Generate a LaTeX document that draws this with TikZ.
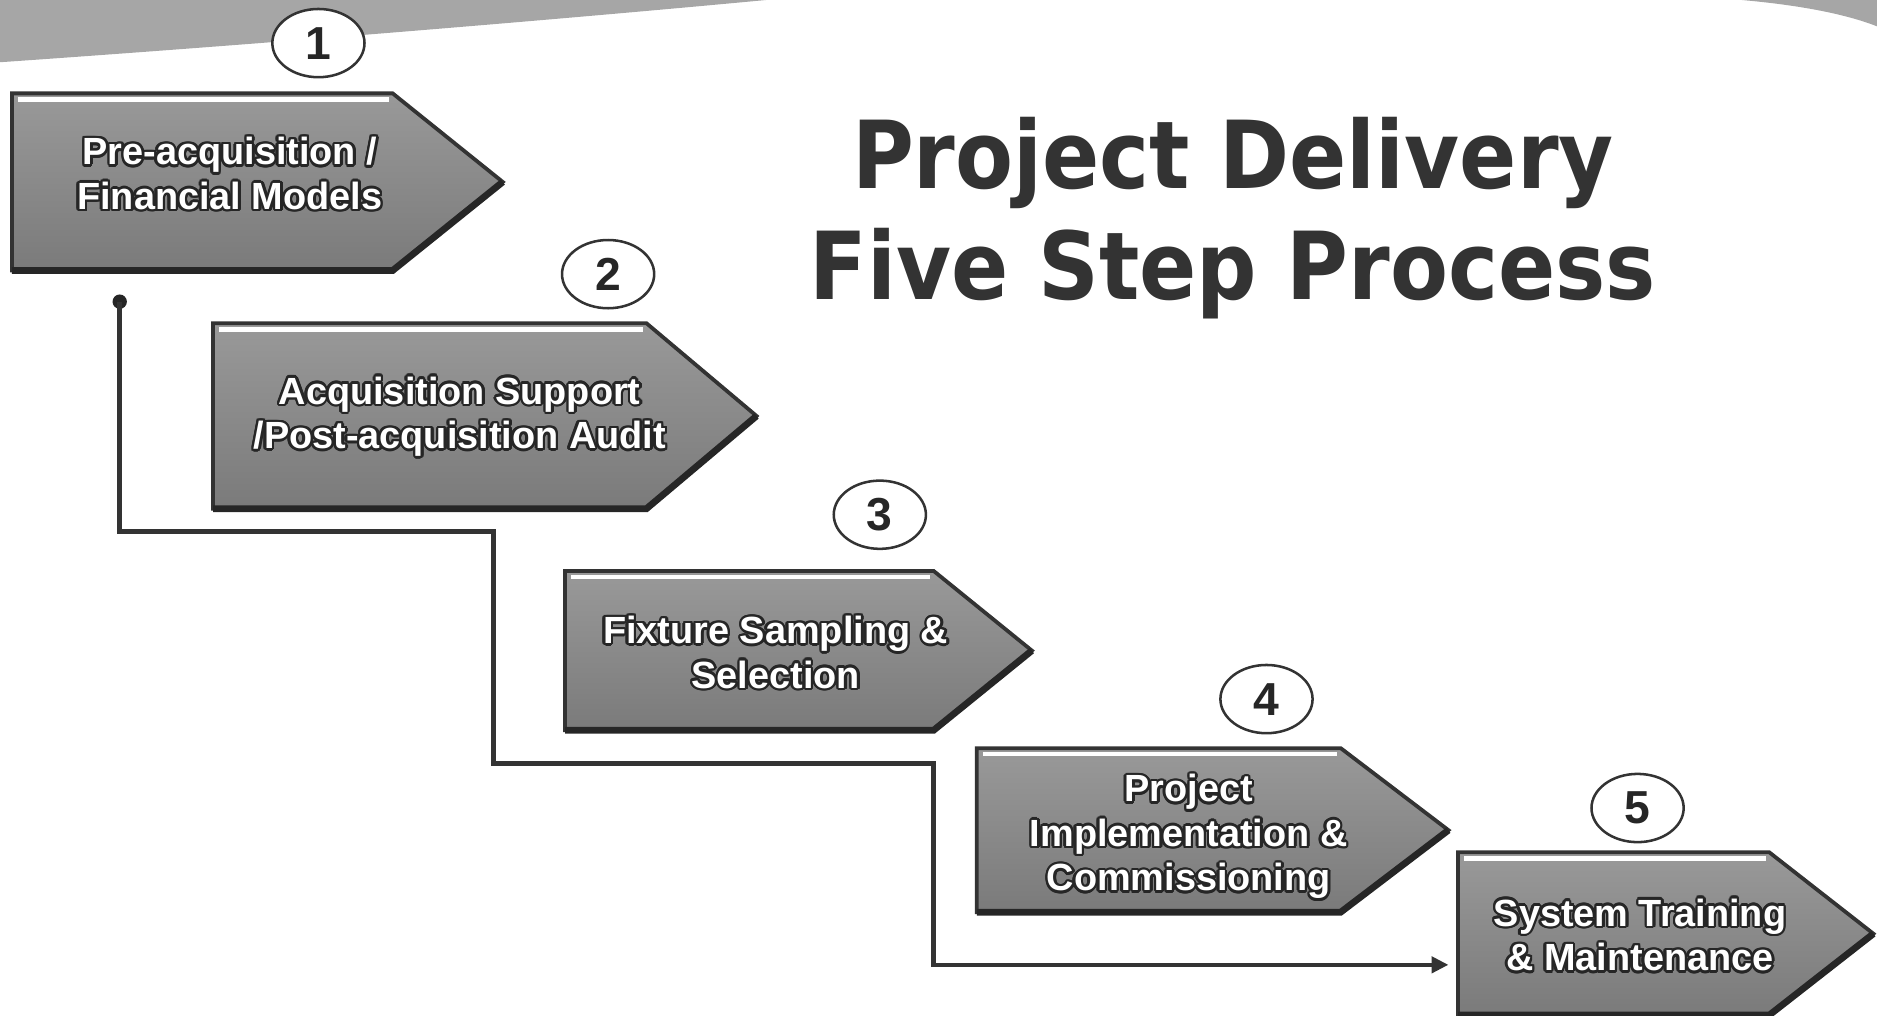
\documentclass[tikz,border=0pt]{standalone}
\usepackage{fontspec}
\setmainfont{Liberation Sans}
\newfontfamily\titlefont{DejaVu Sans}[FakeStretch=0.9]
\usepackage{contour}
\usetikzlibrary{arrows.meta,shapes,positioning,calc}
\contourlength{0.6pt}
\newcommand{\shd}[1]{\contour{black!85}{#1}}
\tikzset{
    step-body/.style={
        draw=black!80,
        line width=0.9pt,
        top color=black!40,
        bottom color=black!52,
        line join=miter
    },
    step-shine/.style={
        draw=white,
        line width=1.1pt
    },
    step-text/.style={
        align=center,
        text=white,
        font=\bfseries\fontsize{9}{10.6}\selectfont
    },
    step-num/.style={
        ellipse,
        draw=black!80,
        fill=white,
        line width=0.6pt,
        minimum width=0.77cm,
        minimum height=0.57cm,
        inner sep=0pt,
        font=\bfseries\fontsize{11}{11}\selectfont,
        text=black!85
    },
    link-line/.style={
        draw=black!80,
        line width=1.1pt,
        -{Triangle[length=4pt,width=3.8pt]}
    },
}
\begin{document}
\begin{tikzpicture}[x=0.1mm,y=-0.1mm]
    \useasboundingbox (0,0) rectangle (1568,848);

    % grey band along the top
    \fill[black!35] (0,0) -- (640,0) .. controls (470,16) and (230,36) .. (0,52) -- cycle;
    \fill[black!35] (1455,0) .. controls (1500,4) and (1540,11) .. (1568,22) -- (1568,0) -- cycle;

    % the five arrows
    \foreach \l/\t/\b/\s/\x in {10/78/226/328/420, 178/270/425/540/632,
        472/477/610/780/862, 816/625/762/1120/1210, 1218/712/848/1478/1565} {
        \draw[step-body] (\l,\t) -- (\s,\t) -- (\x,{(\t+\b)/2}) -- (\s,\b) -- (\l,\b) -- cycle;
        \draw[black!85,line width=1.6pt] (\l,\b) -- (\s,\b) -- (\x,{(\t+\b)/2});
        \draw[step-shine] (\l+5,\t+5) -- (\s-3,\t+5);
    }

    \node[step-text] (s1) at (192,146) {\shd{Pre-acquisition /}\\\shd{Financial Models}};
    \node[step-text] (s2) at (384,349) {\shd{Acquisition Support}\\\shd{/Post-acquisition Audit}};
    \node[step-text] (s3) at (648,546) {\shd{Fixture Sampling \&}\\\shd{Selection}};
    \node[step-text] (s4) at (993,700) {\shd{Project}\\\shd{Implementation \&}\\\shd{Commissioning}};
    \node[step-text] (s5) at (1370,782) {\shd{System Training}\\\shd{\& Maintenance}};

    \node[step-num] (n1) at (266,36) {1};
    \node[step-num] (n2) at (508,229) {2};
    \node[step-num] (n3) at (735,430) {3};
    \node[step-num] (n4) at (1058,584) {4};
    \node[step-num] (n5) at (1368,675) {5};

    \node[align=center,text=black!80,font=\titlefont\bfseries\fontsize{22.3}{26.5}\selectfont]
        (title) at (1030,182) {Project Delivery\\Five Step Process};

    % stepped connector
    \coordinate (start) at (100,252);
    \coordinate (k1) at (412,444);
    \coordinate (k2) at (780,638);
    \coordinate (end) at (1210,806);
    \fill[black!85] (start) circle (6);
    \draw[link-line] (start) |- (k1) |- (k2) |- (end);
\end{tikzpicture}
\end{document}
